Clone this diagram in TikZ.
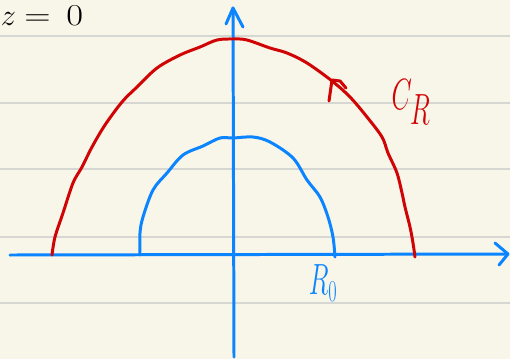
\documentclass[tikz,border=0pt]{standalone}
\usepackage{graphicx}
\usetikzlibrary{arrows.meta,positioning,calc}
\definecolor{paper}{RGB}{248,245,233}
\definecolor{ruleline}{RGB}{214,214,210}
\definecolor{penblue}{RGB}{10,132,255}
\definecolor{penred}{RGB}{208,4,4}

\begin{document}
\begin{tikzpicture}[
    x=0.02cm, y=-0.02cm,
    paperline/.style={draw=ruleline, line width=1.1pt},
    pen/.style={line width=1.7pt, line cap=round, line join=round},
    bluepen/.style={pen, draw=penblue},
    redpen/.style={pen, draw=penred},
    ink/.style={inner sep=0pt, outer sep=0pt},
  ]

  % --- Paper ---
  \fill[paper] (0,0) rectangle (510,359);
  \useasboundingbox (0,0) rectangle (510,359);
  \foreach \y in {36,102.7,169.3,236.7,303}
    \draw[paperline] (0,\y) -- (510,\y);

  % --- Axes ---
  \coordinate (xstart) at (10,255);
  \coordinate (xtip) at (508,254);
  \coordinate (ystart) at (234,357);
  \coordinate (ytip) at (233,8);
  \draw[bluepen] (xstart) -- (xtip);
  \draw[bluepen] (ystart) -- (ytip);
  \draw[bluepen] (495,243) -- (xtip) -- (499,265);
  \draw[bluepen] (226,24) -- (ytip) -- (243,27);

  % --- Big contour C_R ---
  \draw[redpen] plot[smooth, tension=0.55] coordinates {
    (52,255) (55,237) (63,213) (73,183) (82,167) (92,147) (105,125)
    (122,102) (137,87) (157,68) (180,55) (200,47) (217,40) (233,39)
    (247,40) (270,48) (287,53) (307,63) (332,81) (350,97) (367,117)
    (382,137) (388,153) (397,173) (402,193) (405,207) (410,227)
    (413,243) (415,257)};
  \draw[redpen] (329,101) -- (332,80) -- (340,81) -- (346,88);

  % --- Small contour ---
  \draw[bluepen] plot[smooth, tension=0.55] coordinates {
    (140,255) (140,233) (143,217) (153,190) (167,173) (183,155)
    (203,146) (220,138) (233,138) (253,137) (270,142) (293,158)
    (307,180) (320,197) (328,217) (333,237) (335,257)};

  % --- Labels ---
  \node[ink, text=penblue] (rzero) at (323,283)
    {\scalebox{0.6}[1]{\fontsize{27}{30}\selectfont$R_0$}};
  \node[ink, text=penred] (cr) at (411,102)
    {\scalebox{0.6}[1]{\fontsize{44}{48}\selectfont$C_R$}};
  \node[ink, anchor=base west] (zvar) at (1,25)
    {\fontsize{18}{20}\selectfont$z$};
  \node[ink, anchor=base east] (eqzero) at (83,25)
    {\scalebox{1.2}[1]{\fontsize{18}{20}\selectfont$=\hspace{0.15em}0$}};

\end{tikzpicture}
\end{document}
